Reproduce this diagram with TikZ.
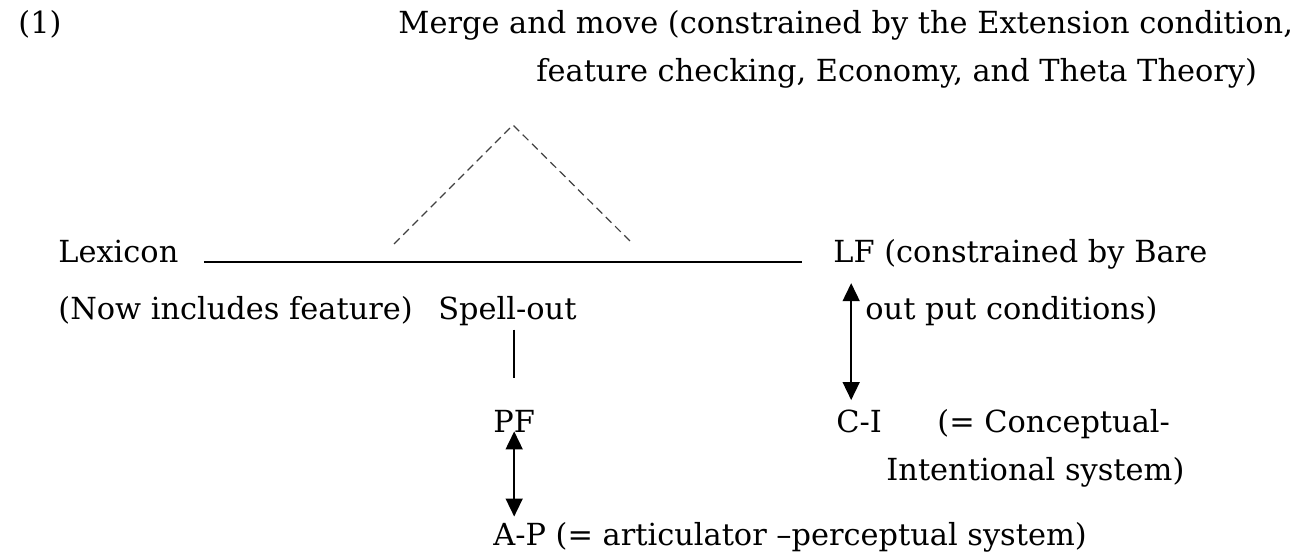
\documentclass[tikz,border=0pt]{standalone}
\usepackage{fontspec}
\setmainfont{DejaVu Serif}
\usetikzlibrary{positioning, arrows.meta, calc}
\tikzset{
  txt/.style   = {anchor=base west, inner sep=0pt, font=\fontsize{15.2}{18}\selectfont},
  link/.style  = {line width=1pt},
  both/.style  = {{Triangle[length=9pt,width=8.5pt]}-{Triangle[length=9pt,width=8.5pt]},
                  line width=0.8pt},
  merge/.style = {dash pattern=on 4pt off 2.5pt, line width=0.6pt, black!75},
}

\begin{document}
\begin{tikzpicture}[x=0.5pt, y=-0.5pt]
  \useasboundingbox (0,0) rectangle (1309,552);

  % heading
  \node[txt] (num) at (18,33) {(1)};
  \node[txt] (merge1) at (398,33) {Merge and move (constrained by the Extension condition,};
  \node[txt] (merge2) at (536,81) {feature checking, Economy, and Theta Theory)};

  % derivation
  \node[txt] (lex) at (58,262) {Lexicon};
  \node[txt] (lf) at (833,262) {LF (constrained by Bare};
  \node[txt] (lexnote) at (58,319) {(Now includes feature)};
  \node[txt] (spell) at (438,319) {Spell-out};
  \node[txt] (lfnote) at (865,319) {out put conditions)};
  \node[txt] (pf) at (493,432) {PF};
  \node[txt] (ci) at (836,432) {C-I};
  \node[txt] (cinote) at (937,432) {(= Conceptual-};
  \node[txt] (cinote2) at (886,480) {Intentional system)};
  \node[txt] (ap) at (493,545) {A-P (= articulator –perceptual system)};

  % merge/move triangle
  \coordinate (apex) at (513,125);
  \coordinate (tl) at (394,244);
  \coordinate (tr) at (633,244);
  \draw[merge] (tl) -- (apex) -- (tr);

  \draw[link] ($(lex.base east)+(25,0)$) -- ($(lf.base west)+(-31,0)$);
  \draw[link] ($(spell.south -| pf)+(0,4)$) -- ($(pf.north)+(0,-31)$);

  \draw[both] ($(ci.north |- lf.south)+(-8,14)$) -- ($(ci.north)+(-8,-9)$);
  \draw[both] ($(pf.south)+(0,-1)$) -- ($(pf.south |- ap.north)+(0,-5)$);

\end{tikzpicture}
\end{document}
